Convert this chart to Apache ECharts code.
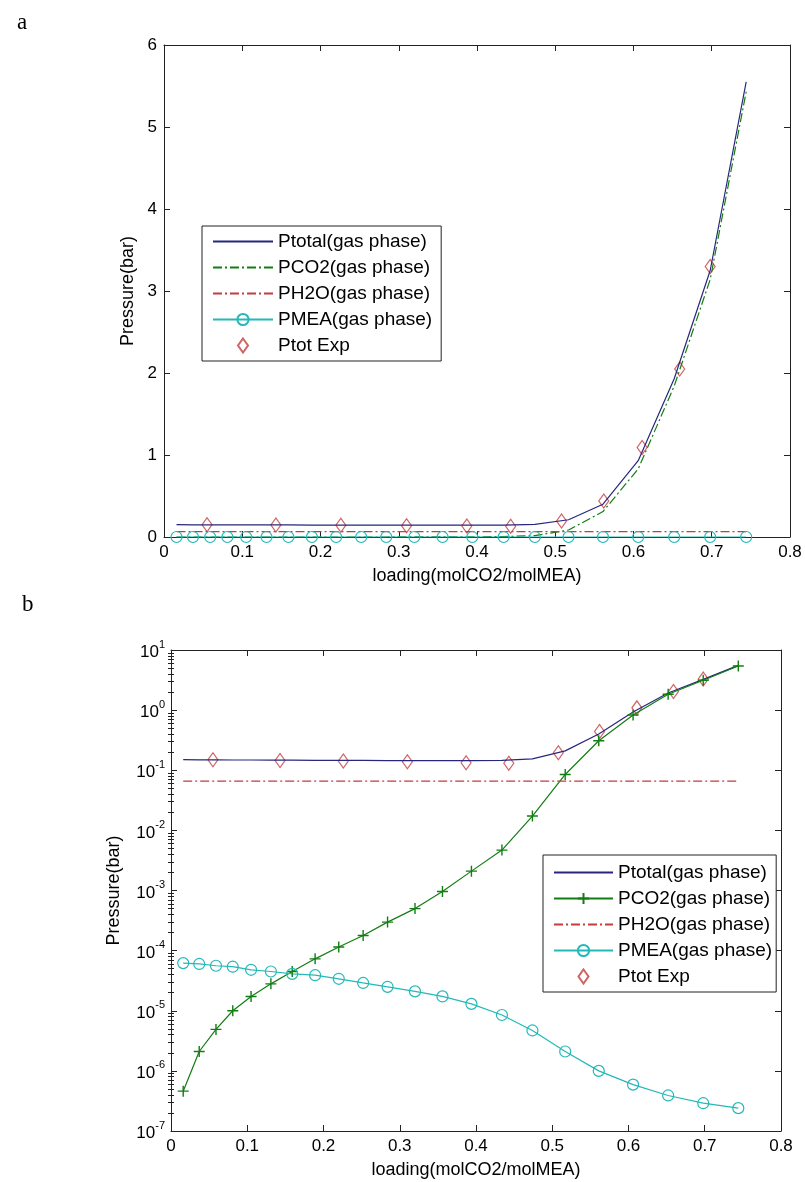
<!DOCTYPE html>
<html>
<head>
<meta charset="utf-8">
<script src="https://cdn.jsdelivr.net/npm/echarts@6/dist/echarts.min.js"></script>
<style>
  html, body { margin: 0; padding: 0; background: #fff; }
  #main { width: 805px; height: 1182px; }
</style>
</head>
<body>
<div id="main"></div>
<script>
// model grid (loading, mol CO2 / mol MEA)
var loading = [0.016, 0.037, 0.059, 0.081, 0.105, 0.131, 0.159, 0.189, 0.220, 0.252, 0.284,
               0.320, 0.356, 0.394, 0.434, 0.474, 0.517, 0.561, 0.606, 0.652, 0.698, 0.744];
// partial pressures, bar
var pTotal = [0.150, 0.149, 0.149, 0.148, 0.148, 0.147, 0.147, 0.146, 0.146, 0.146, 0.145,
              0.145, 0.145, 0.145, 0.146, 0.155, 0.21, 0.40, 0.93, 1.93, 3.25, 5.55];
var pCO2 = [4.6e-7, 2.1e-6, 4.9e-6, 1.0e-5, 1.73e-5, 2.8e-5, 4.5e-5, 7.3e-5, 1.15e-4, 1.78e-4, 2.98e-4,
            5.0e-4, 9.6e-4, 2.1e-3, 4.7e-3, 1.73e-2, 8.5e-2, 0.31, 0.83, 1.84, 3.14, 5.43];
var pH2O = [0.066, 0.066, 0.066, 0.066, 0.066, 0.066, 0.066, 0.066, 0.066, 0.066, 0.066,
            0.066, 0.066, 0.066, 0.066, 0.066, 0.066, 0.066, 0.066, 0.066, 0.066, 0.066];
var pMEA = [6.2e-5, 6.0e-5, 5.6e-5, 5.4e-5, 4.8e-5, 4.5e-5, 4.1e-5, 3.9e-5, 3.4e-5, 2.9e-5, 2.5e-5,
            2.1e-5, 1.73e-5, 1.30e-5, 8.5e-6, 4.7e-6, 2.1e-6, 1.0e-6, 5.9e-7, 3.9e-7, 2.9e-7, 2.4e-7];
// experimental total pressure
var expLoading = [0.055, 0.143, 0.226, 0.310, 0.387, 0.443, 0.508, 0.562, 0.611, 0.659, 0.698];
var expPtot = [0.150, 0.145, 0.142, 0.138, 0.133, 0.131, 0.196, 0.44, 1.09, 2.05, 3.30];

var names = ['Ptotal(gas phase)', 'PCO2(gas phase)', 'PH2O(gas phase)', 'PMEA(gas phase)', 'Ptot Exp'];

// minor ticks of the log axis: 2..9 in every decade 1e-7 .. 1e1
var logMinor = [];
for (var e = -7; e < 1; e++) {
  for (var k = 2; k <= 9; k++) logMinor.push(+(k * Math.pow(10, e)).toPrecision(3));
}

var FONT = 'Liberation Sans, Arial, sans-serif';
var cNavy = '#27277e', cGreen = '#127d12', cRed = '#c43c3c', cCyan = '#24b8b8', cExp = '#c43c3c';
var dashDot = [9, 3, 2, 3];

function pairs(xs, ys) {
  return xs.map(function (x, i) { return [x, ys[i]]; });
}

var axisLine = { show: true, onZero: false, lineStyle: { color: '#222', width: 1 } };
var tickIn = { show: true, inside: true, length: 6, lineStyle: { color: '#222' } };
var nameStyle = { color: '#000', fontFamily: FONT, fontSize: 18 };

function xAxes(g) {
  return [
    { type: 'value', gridIndex: g, position: 'bottom', min: 0, max: 0.8, interval: 0.1,
      axisLine: axisLine, axisTick: tickIn, splitLine: { show: false },
      axisLabel: { color: '#000', fontFamily: FONT, fontSize: 17, margin: 7,
        formatter: function (v) { return v === 0 ? '0' : v.toFixed(1); } },
      name: 'loading(molCO2/molMEA)', nameLocation: 'middle', nameGap: 30, nameTextStyle: nameStyle },
    { type: 'value', gridIndex: g, position: 'top', min: 0, max: 0.8, interval: 0.1,
      axisLine: axisLine, axisTick: tickIn, axisLabel: { show: false }, splitLine: { show: false } }
  ];
}

function logAxis(pos, minor) {
  var ax = { type: 'log', logBase: 10, gridIndex: 1, position: pos, min: 1e-7, max: 10, splitNumber: 8,
    splitLine: { show: false }, axisLabel: { show: false } };
  if (minor) {
    ax.axisLine = { show: false };
    ax.axisTick = { show: true, inside: true, length: 3, customValues: logMinor, lineStyle: { color: '#222' } };
  } else {
    ax.axisLine = axisLine;
    ax.axisTick = tickIn;
  }
  return ax;
}

var leftLog = logAxis('left', false);
leftLog.axisLabel = { show: true, color: '#000', fontFamily: FONT, margin: 6,
  formatter: function (v) { return '{b|10}{s|' + Math.round(Math.log10(v)) + '}'; },
  rich: {
    b: { fontFamily: FONT, fontSize: 17, lineHeight: 22, verticalAlign: 'bottom', color: '#000' },
    s: { fontFamily: FONT, fontSize: 11, lineHeight: 11, verticalAlign: 'top', color: '#000' }
  } };
leftLog.name = 'Pressure(bar)';
leftLog.nameLocation = 'middle';
leftLog.nameGap = 48;
leftLog.nameTextStyle = nameStyle;

function legendItems(p) {
  return names.map(function (n, i) {
    var item = { name: p + '|' + n };
    if (i === 4) item.icon = 'path://M5,0L10,7L5,14L0,7Z';
    else if (i === 0 || i === 2 || (i === 1 && p === 'a')) item.itemStyle = { opacity: 0 };
    return item;
  });
}

var option = {
  animation: false,
  backgroundColor: '#fff',
  title: [
    { text: 'a', left: 12, top: 6, textStyle: { fontFamily: 'Liberation Serif', fontSize: 23, fontWeight: 'normal', color: '#000' } },
    { text: 'b', left: 17, top: 588, textStyle: { fontFamily: 'Liberation Serif', fontSize: 23, fontWeight: 'normal', color: '#000' } }
  ],
  grid: [
    { left: 164, top: 45, width: 626, height: 492 },
    { left: 171, top: 650, width: 610, height: 481 }
  ],
  xAxis: xAxes(0).concat(xAxes(1)),
  yAxis: [
    { type: 'value', gridIndex: 0, position: 'left', min: 0, max: 6, interval: 1,
      axisLine: axisLine, axisTick: tickIn, splitLine: { show: false },
      axisLabel: { color: '#000', fontFamily: FONT, fontSize: 17, margin: 7 },
      name: 'Pressure(bar)', nameLocation: 'middle', nameGap: 26, nameTextStyle: nameStyle },
    { type: 'value', gridIndex: 0, position: 'right', min: 0, max: 6, interval: 1,
      axisLine: axisLine, axisTick: tickIn, axisLabel: { show: false }, splitLine: { show: false } },
    leftLog,
    logAxis('right', false),
    logAxis('left', true),
    logAxis('right', true)
  ],
  legend: [
    { data: legendItems('a'),
      formatter: function (n) { return n.slice(2); },
      orient: 'vertical', left: 202, top: 226, padding: [6, 9, 6, 10],
      itemWidth: 60, itemHeight: 14, itemGap: 7, selectedMode: false, symbolKeepAspect: true,
      backgroundColor: '#fff', borderColor: '#222', borderWidth: 1, borderRadius: 0,
      textStyle: { fontFamily: FONT, fontSize: 19, lineHeight: 19, color: '#000' } },
    { data: legendItems('b'),
      formatter: function (n) { return n.slice(2); },
      orient: 'vertical', left: 543, top: 855, padding: [8, 4, 6, 10],
      itemWidth: 59, itemHeight: 14, itemGap: 7, selectedMode: false, symbolKeepAspect: true,
      backgroundColor: '#fff', borderColor: '#222', borderWidth: 1, borderRadius: 0,
      textStyle: { fontFamily: FONT, fontSize: 19, lineHeight: 19, color: '#000' } }
  ],
  series: [
    // panel a, linear scale
    { name: 'a|' + names[0], type: 'line', xAxisIndex: 0, yAxisIndex: 0, data: pairs(loading, pTotal),
      symbol: 'none', lineStyle: { color: cNavy, width: 1.2 }, itemStyle: { color: cNavy } },
    { name: 'a|' + names[1], type: 'line', xAxisIndex: 0, yAxisIndex: 0, data: pairs(loading, pCO2),
      symbol: 'none', lineStyle: { color: cGreen, width: 1.2, type: dashDot }, itemStyle: { color: cGreen } },
    { name: 'a|' + names[2], type: 'line', xAxisIndex: 0, yAxisIndex: 0, data: pairs(loading, pH2O),
      symbol: 'none', lineStyle: { color: cRed, width: 1.2, type: dashDot }, itemStyle: { color: cRed } },
    { name: 'a|' + names[3], type: 'line', xAxisIndex: 0, yAxisIndex: 0, data: pairs(loading, pMEA),
      symbol: 'circle', symbolSize: 11, lineStyle: { color: cCyan, width: 1.2 },
      itemStyle: { color: 'rgba(255,255,255,0)', borderColor: cCyan, borderWidth: 1.2 } },
    { name: 'a|' + names[4], type: 'scatter', xAxisIndex: 0, yAxisIndex: 0, data: pairs(expLoading, expPtot),
      symbol: 'diamond', symbolSize: [10, 14],
      itemStyle: { color: 'rgba(255,255,255,0)', borderColor: cExp, borderWidth: 1.2 } },
    // panel b, log scale
    { name: 'b|' + names[0], type: 'line', xAxisIndex: 2, yAxisIndex: 2, data: pairs(loading, pTotal),
      symbol: 'none', lineStyle: { color: cNavy, width: 1.2 }, itemStyle: { color: cNavy } },
    { name: 'b|' + names[1], type: 'line', xAxisIndex: 2, yAxisIndex: 2, data: pairs(loading, pCO2),
      symbol: 'path://M5,0V10M0,5H10', symbolSize: 11, lineStyle: { color: cGreen, width: 1.2 },
      itemStyle: { color: 'rgba(0,0,0,0)', borderColor: cGreen, borderWidth: 1.4 } },
    { name: 'b|' + names[2], type: 'line', xAxisIndex: 2, yAxisIndex: 2, data: pairs(loading, pH2O),
      symbol: 'none', lineStyle: { color: cRed, width: 1.2, type: dashDot }, itemStyle: { color: cRed } },
    { name: 'b|' + names[3], type: 'line', xAxisIndex: 2, yAxisIndex: 2, data: pairs(loading, pMEA),
      symbol: 'circle', symbolSize: 11, lineStyle: { color: cCyan, width: 1.2 },
      itemStyle: { color: 'rgba(255,255,255,0)', borderColor: cCyan, borderWidth: 1.2 } },
    { name: 'b|' + names[4], type: 'scatter', xAxisIndex: 2, yAxisIndex: 2, data: pairs(expLoading, expPtot),
      symbol: 'diamond', symbolSize: [10, 14],
      itemStyle: { color: 'rgba(255,255,255,0)', borderColor: cExp, borderWidth: 1.2 } }
  ]
};

var chart = echarts.init(document.getElementById('main'));
chart.setOption(option);
</script>
</body>
</html>
